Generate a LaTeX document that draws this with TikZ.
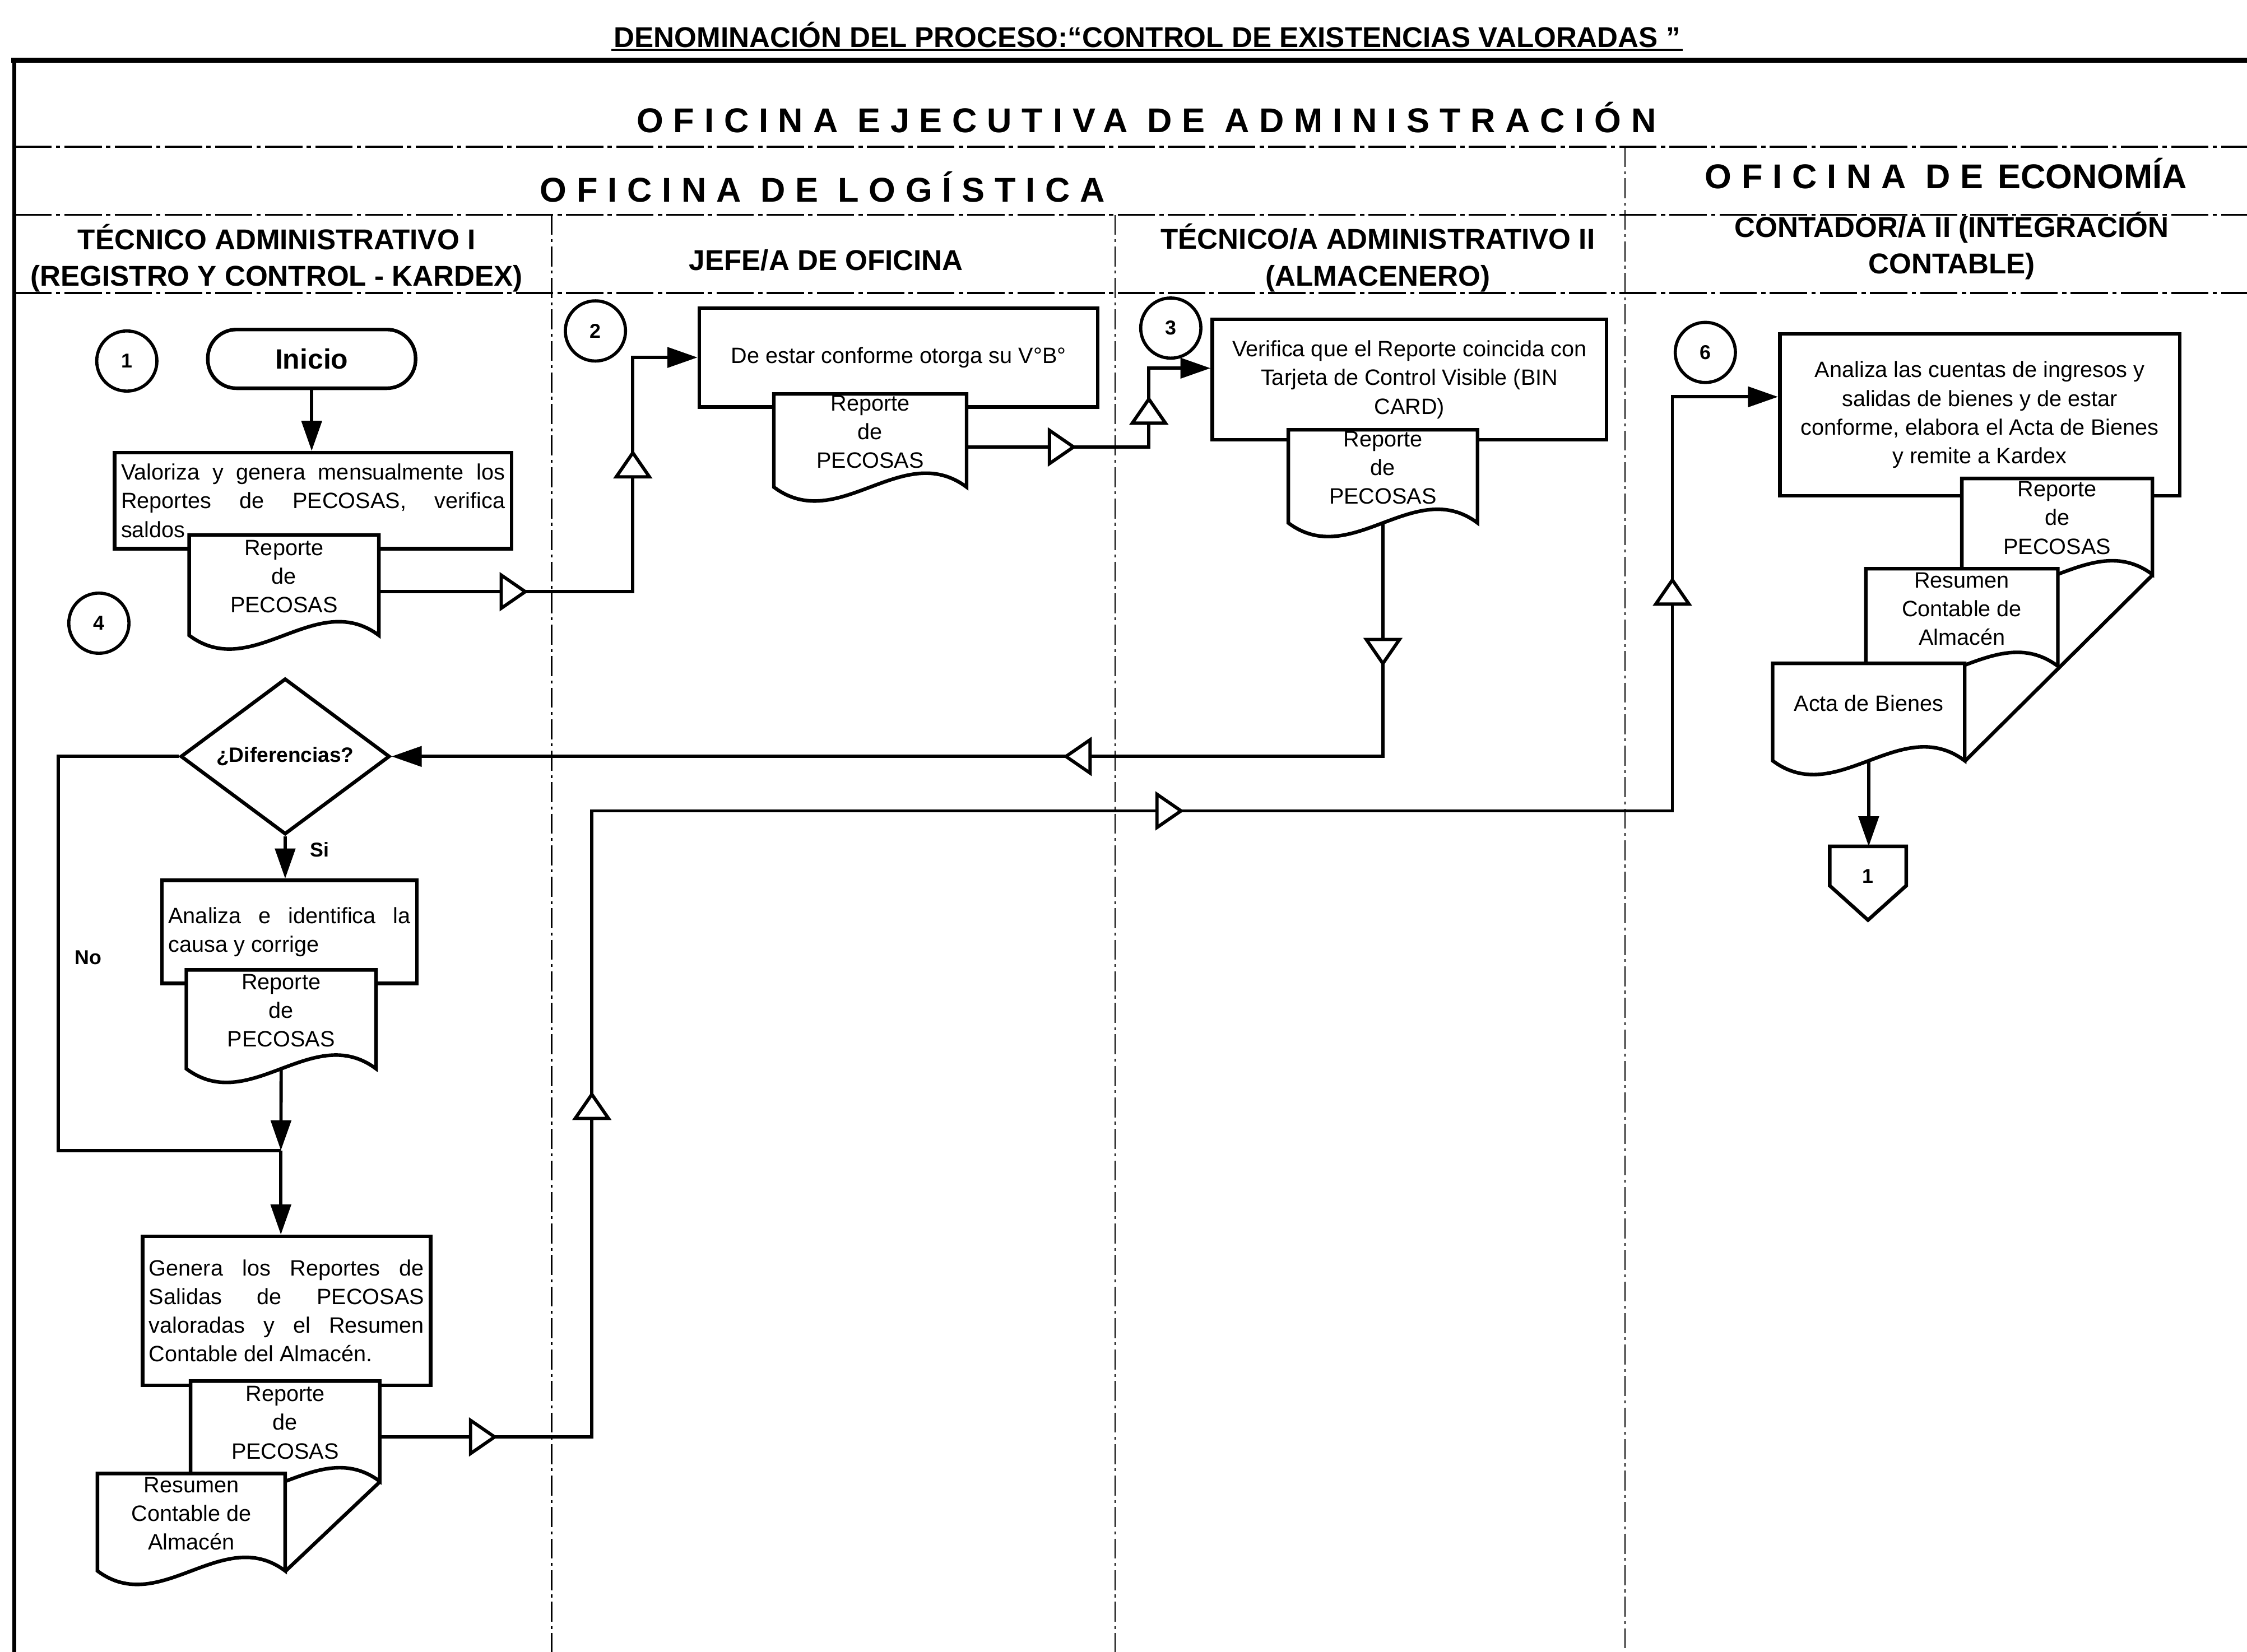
\documentclass[tikz,border=0pt]{standalone}
\usepackage{fontspec}
\setmainfont{Liberation Sans}
\newfontfamily\spacedfont[LetterSpace=29]{Liberation Sans}
\usetikzlibrary{arrows.meta,decorations.markings,shapes.geometric}
\tikzset{>={Triangle[length=21pt,width=14pt]}}
\newcommand{\bodyfont}{\fontsize{15.5}{20}\selectfont}
\newcommand{\headfont}{\fontsize{20}{25.5}\selectfont\bfseries}
\newcommand{\areafont}{\fontsize{24}{28}\selectfont\bfseries}
\tikzset{
  thickline/.style = {line width=2.5pt},
  flow/.style = {line width=2.3pt, ->},
  proc/.style = {draw, thickline, fill=white, inner sep=4.5pt, font=\bodyfont},
  docbody/.style = {inner sep=0pt, font=\bodyfont, align=center},
  term/.style = {draw, thickline, rounded corners=20pt, minimum width=145pt,
    minimum height=41pt, font=\fontsize{19.5}{20}\selectfont\bfseries},
  decision/.style = {draw, thickline, diamond, fill=white, inner sep=0pt,
    minimum width=146pt, minimum height=86pt,
    font=\fontsize{14.5}{15}\selectfont\bfseries},
  stepno/.style = {draw, circle, line width=2.2pt, minimum size=42pt, inner sep=0pt,
    font=\fontsize{14}{14}\selectfont\bfseries},
  tag/.style = {font=\fontsize{14}{14}\selectfont\bfseries},
  lane/.style = {line width=0.9pt, dash pattern=on 14pt off 3pt on 2pt off 3pt},
  band/.style = {line width=1.3pt, dash pattern=on 26pt off 3pt on 3pt off 3pt},
  openmark/.style = {postaction={decorate, decoration={markings,
    mark=at position #1 with {\arrow{Triangle[fill=white,length=20pt,width=27pt]}}}}}
}

% document symbol with wavy bottom: name, left, top, width, height, text
\newcommand{\docsym}[6]{%
  \draw[thickline, fill=white] (#2,#3) -- ++(#4,0) -- ++(0,#5)
    .. controls ({#2+2*#4/3},{#3+#5-#4/4}) and ({#2+#4/3},{#3+#5+#4/4}) .. (#2,{#3+#5}) -- cycle;
  \path ({#2+#4/2},{#3+#5/2}) node[inner sep=0pt, minimum width=#4pt, minimum height=#5pt] (#1) {}
    node[docbody, yshift=6pt] (#1t) {#6};
}

\begin{document}
\begin{tikzpicture}[x=1pt, y=-1pt]
\useasboundingbox (0,0) rectangle (1568,1153);

% frame and swimlanes
\draw[line width=3.8pt] (8,42) -- (1568,42);
\draw[line width=2.8pt] (10,42) -- (10,1153);
\foreach \y in {102.5,150,204.5}
  \draw[band] (10,\y) -- (1568,\y);
\draw[lane] (385,150) -- (385,1153);
\draw[lane] (778,150) -- (778,1153);
\draw[lane] (1134,102.5) -- (1134,1153);

% headings (base = last line)
\node[font=\fontsize{20}{20}\selectfont\bfseries, anchor=base, inner sep=1.5pt] (ttl) at (800.5,33)
  {DENOMINACIÓN DEL PROCESO:“CONTROL DE EXISTENCIAS VALORADAS ”};
\draw[line width=1.6pt] (ttl.south west) -- (ttl.south east);
\node[font=\areafont\spacedfont, anchor=base] (oea) at (800,92.5) {OFICINA EJECUTIVA DE ADMINISTRACIÓN};
\node[font=\areafont\spacedfont, anchor=base] (olog) at (574,141) {OFICINA DE LOGÍSTICA};
\node[font=\areafont, anchor=base] (oeco) at (1358,131.5) {{\spacedfont OFICINA DE}\hspace{10pt}ECONOMÍA};
\node[font=\headfont, align=center, anchor=base] (h1) at (193,199.8) {TÉCNICO ADMINISTRATIVO I\\(REGISTRO Y CONTROL - KARDEX)};
\node[font=\headfont, anchor=base] (h2) at (576.5,188.5) {JEFE/A DE OFICINA};
\node[font=\headfont, align=center, anchor=base] (h3) at (961.5,199.5) {TÉCNICO/A ADMINISTRATIVO II\\(ALMACENERO)};
\node[font=\headfont, align=center, anchor=base] (h4) at (1362,191) {CONTADOR/A II (INTEGRACIÓN\\CONTABLE)};

% kardex lane
\node[stepno] (c1) at (88.5,252) {1};
\node[term] (ini) at (217.5,250.5) {Inicio};
\node[proc, text width=268pt, align=justify, minimum height=67pt] (b1) at (218.5,349.5)
  {Valoriza y genera mensualmente los\linebreak Reportes de PECOSAS, verifica\linebreak saldos};
\docsym{d1}{132}{373.5}{132.4}{70}{Reporte\\de\\PECOSAS}
\node[stepno] (c4) at (69,435) {4};

% jefe lane
\node[stepno] (c2) at (415.5,231) {2};
\node[proc, minimum width=278pt, minimum height=69pt] (b2) at (627,249.5) {De estar conforme otorga su V°B°};
\docsym{d2}{540}{275}{134.5}{65}{Reporte\\de\\PECOSAS}

% almacen lane
\node[stepno] (c3) at (817,229) {3};
\node[proc, align=center, minimum width=275pt, minimum height=84pt] (b3) at (983.5,265)
  {Verifica que el Reporte coincida con\\Tarjeta de Control Visible (BIN\\CARD)};
\docsym{d3}{899}{300}{132}{65}{Reporte\\de\\PECOSAS}

% check for differences
\node[decision] (dia) at (199,528) {¿Diferencias?};
\node[proc, text width=169pt, align=justify, minimum height=72pt] (b4) at (202,650.5)
  {Analiza e identifica la\linebreak causa y corrige};
\docsym{d4}{130}{677}{132.4}{69}{Reporte\\de\\PECOSAS}
\coordinate (jn) at (196,803);
\node[proc, text width=192pt, align=justify, minimum height=104pt] (b5) at (200,915)
  {Genera los Reportes de\linebreak Salidas de PECOSAS\linebreak valoradas y el Resumen\linebreak Contable del Almacén.};
\docsym{mb}{133}{964}{132}{70}{Reporte\\de\\PECOSAS}
\docsym{mf}{68}{1028.5}{131}{68}{Resumen\\Contable de\\Almacén}
\draw[thickline] (mb.south east) -- (mf.south east);

% contabilidad lane
\node[stepno] (c6) at (1190,246) {6};
\node[proc, align=center, minimum width=279pt, minimum height=113pt] (b6) at (1381.5,289.5)
  {Analiza las cuentas de ingresos y\\salidas de bienes y de estar\\conforme, elabora el Acta de Bienes\\y remite a Kardex};
\docsym{rb}{1369}{334}{133}{67}{Reporte\\de\\PECOSAS}
\docsym{rm}{1302}{397}{134}{68}{Resumen\\Contable de\\Almacén}
\docsym{rf}{1237}{463}{134}{68}{Acta de Bienes}
\draw[thickline] (rb.south east) -- (rf.south east);
\node[inner sep=0pt, minimum width=53pt, minimum height=51pt, text depth=10pt,
  font=\fontsize{14}{14}\selectfont\bfseries] (off) at (1303.5,616.5) {1};
\draw[thickline] (off.north west) -- (off.north east) -- ([yshift=24pt]off.south east)
  -- (off.south) -- ([yshift=24pt]off.south west) -- cycle;

% connectors
\coordinate (k1) at (413,566);
\coordinate (k2) at (1167,566);
\draw[flow] (ini.south) -- (ini.south |- b1.north);
\draw[flow, openmark=104pt, openmark=276pt] ([yshift=-4.5pt]d1.east) -- ++(177,0) |- (b2.west);
\draw[flow, openmark=76.5pt, openmark=162.5pt] ([yshift=-4.5pt]d2.east) -- ++(127,0) |- ([yshift=8pt]b3.west);
\draw[flow, openmark=100pt, openmark=386pt] (d3.south) |- (dia.east);
\draw[flow] (dia.south) -- node[tag, pos=0.32, right=13pt] (si) {Si} (dia.south |- b4.north);
\draw[flow] (d4.south) -- (jn);
\draw[line width=2.3pt] (dia.west) -- ++(-84,0) |- node[tag, pos=0.255, right=7pt] (no) {No} (jn);
\draw[flow] (jn) -- (jn |- b5.north);
\draw[flow, openmark=82pt, openmark=389pt, openmark=998pt, openmark=1502pt]
  ([yshift=-4pt]mb.east) -| (k1) -- (k2) |- ([yshift=12.5pt]b6.west);
\draw[flow] (rf.south) -- (rf.south |- off.north);
\end{tikzpicture}
\end{document}
